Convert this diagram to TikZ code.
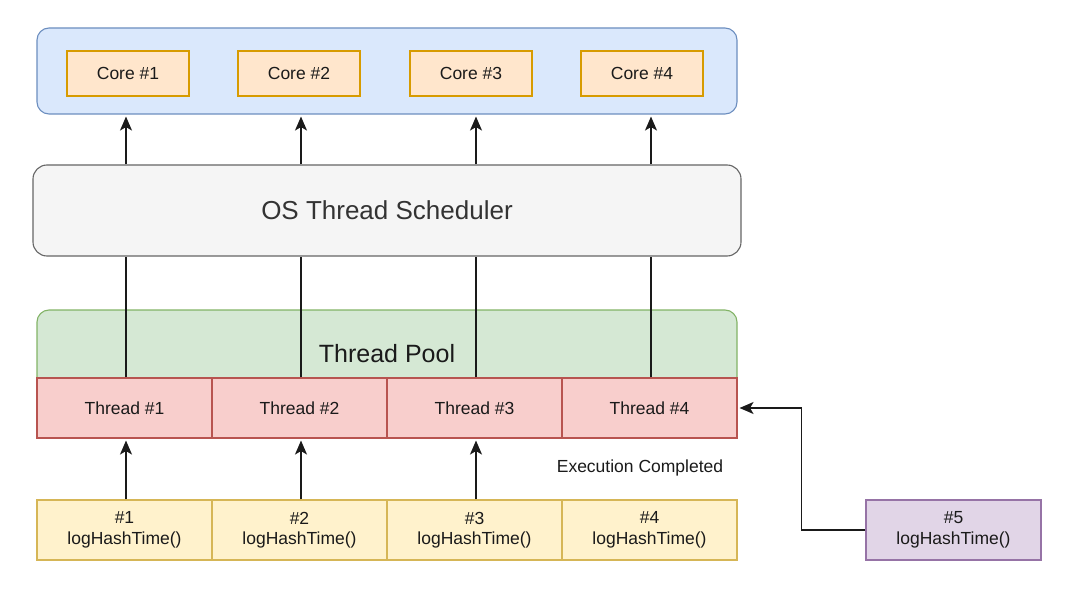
\documentclass[tikz,border=0pt]{standalone}
\usepackage{fontspec}
\setmainfont{Liberation Sans}
\usetikzlibrary{arrows.meta, calc}

\definecolor{cpufill}{HTML}{DAE8FC}
\definecolor{cpuline}{HTML}{6C8EBF}
\definecolor{corefill}{HTML}{FFE6CC}
\definecolor{coreline}{HTML}{D79B00}
\definecolor{schedfill}{HTML}{F5F5F5}
\definecolor{schedline}{HTML}{666666}
\definecolor{poolfill}{HTML}{D5E8D4}
\definecolor{poolline}{HTML}{82B366}
\definecolor{thrfill}{HTML}{F8CECC}
\definecolor{thrline}{HTML}{B85450}
\definecolor{taskfill}{HTML}{FFF2CC}
\definecolor{taskline}{HTML}{D6B656}
\definecolor{waitfill}{HTML}{E1D5E7}
\definecolor{waitline}{HTML}{9673A6}
\definecolor{ink}{HTML}{1A1A1A}

\begin{document}
\begin{tikzpicture}[x=1pt, y=-1pt,
    small/.style={font=\fontsize{17.5}{20.5}\selectfont, text=ink, align=center},
    big/.style={font=\fontsize{26}{30}\selectfont, text=black!80},
    box/.style={rectangle, draw, line width=1.1pt, inner sep=0pt, small},
    core/.style={box, fill=corefill, draw=coreline, minimum width=122pt, minimum height=45pt},
    cell/.style={box, minimum width=175pt, minimum height=60pt},
    thr/.style={cell, fill=thrfill, draw=thrline},
    task/.style={cell, fill=taskfill, draw=taskline},
    conn/.style={draw=ink, line width=1.2pt},
    arr/.style={conn, -{Stealth[length=14pt, width=12pt, inset=3.5pt]}, shorten >=2pt}]
  \useasboundingbox (0,0) rectangle (1080,607);

  % cpu with its cores
  \node (cpu) [box, fill=cpufill, draw=cpuline, rounded corners=12pt, minimum width=700pt, minimum height=86pt] at (387,71) {};
  \node (core1) [core] at (128,73.5) {Core \#1};
  \node (core2) [core] at (299,73.5) {Core \#2};
  \node (core3) [core] at (471,73.5) {Core \#3};
  \node (core4) [core] at (642,73.5) {Core \#4};

  % scheduler
  \node (sched) [box, big, fill=schedfill, draw=schedline, rounded corners=14pt, minimum width=708pt, minimum height=91pt] at (387,210.5) {OS Thread Scheduler};

  % thread pool
  \node (pool) [box, big, font=\fontsize{25}{29}\selectfont, text=ink, fill=poolfill, draw=poolline, rounded corners=12pt, minimum width=700pt, minimum height=88pt] at (387,354) {Thread Pool};
  \node (thread1) [thr] at (124.5,408) {Thread \#1};
  \node (thread2) [thr] at (299.5,408) {Thread \#2};
  \node (thread3) [thr] at (474.5,408) {Thread \#3};
  \node (thread4) [thr] at (649.5,408) {Thread \#4};

  % tasks
  \node (task1) [task] at (124.5,530) {\#1\\logHashTime()};
  \node (task2) [task] at (299.5,530) {\#2\\logHashTime()};
  \node (task3) [task] at (474.5,530) {\#3\\logHashTime()};
  \node (task4) [task] at (649.5,530) {\#4\\logHashTime()};
  \node (task5) [cell, fill=waitfill, draw=waitline] at (953.5,530) {\#5\\logHashTime()};

  \node (done) [small] at (640,468) {Execution Completed};

  \foreach \i in {1,...,4} {
    \path [arr] ($(thread\i.north |- sched.north)+(1.5,0)$) -- ($(thread\i.north |- cpu.south)+(1.5,0)$);
    \path [conn] ($(thread\i.north)+(1.5,0)$) -- ($(thread\i.north |- sched.south)+(1.5,0)$);
  }
  \foreach \i in {1,...,3}
    \path [arr] ($(task\i.north)+(1.5,0)$) -- ($(thread\i.south)+(1.5,0)$);

  \path [arr] (task5.west) -- ++(-64,0) |- (thread4.east);
\end{tikzpicture}
\end{document}
